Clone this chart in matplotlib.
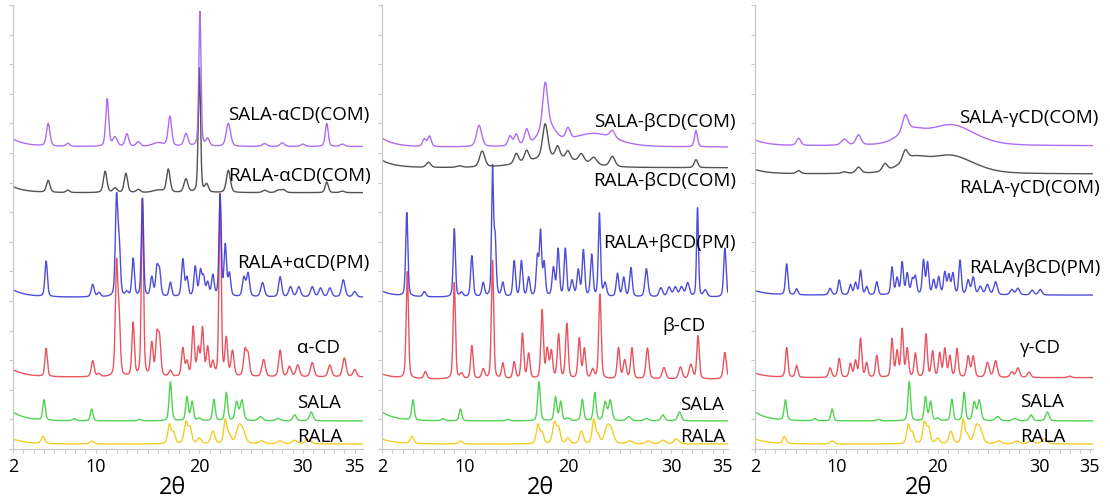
import numpy as np
import matplotlib
matplotlib.use("Agg")
import matplotlib.pyplot as plt

plt.rcParams["font.family"] = ["Open Sans", "DejaVu Sans"]

# ---------------------------------------------------------------------------
# Powder XRD patterns, stacked.  Each pattern: stacking offset, low-angle
# background rise, and a list of reflections (2θ, height, FWHM).
# ---------------------------------------------------------------------------
tick_values = [2, 10, 20, 30, 35]
tick_labels = ["2", "10", "20", "30", "35"]
panel_xmax = [35.8, 35.5, 35.3]

# R- and S-alpha-lipoic acid (same data in all three panels)
rala_offset, rala_rise = 17, 17
rala_peaks = [(4.9, 24, .4), (9.6, 10, .45), (17.1, 64, .38), (17.5, 36, .38),
              (18.7, 70, .42), (19.1, 50, .4), (20.0, 18, .45), (21.3, 42, .45),
              (22.5, 80, .36), (22.9, 28, .4), (23.8, 52, .6), (24.2, 38, .6),
              (26.0, 10, .6), (27.8, 10, .6), (29.2, 12, .6), (30.5, 17, .6)]

sala_offset, sala_rise = 95, 30
sala_peaks = [(5.0, 68, .3), (7.9, 7, .4), (9.6, 40, .3), (14.2, 5, .4),
              (17.2, 132, .3), (18.8, 80, .3), (19.3, 64, .3), (20.0, 8, .4),
              (21.4, 72, .3), (22.6, 95, .3), (23.6, 62, .36), (24.1, 68, .38),
              (25.9, 14, .5), (27.6, 8, .5), (29.2, 20, .4), (30.8, 30, .4)]

# alpha-cyclodextrin panel
acd_offset, acd_rise = 243, 25
acd_peaks = [(5.2, 95, .28), (9.7, 54, .34), (10.3, 10, .34), (12.0, 370, .28),
             (12.25, 180, .28), (13.6, 180, .28), (14.5, 600, .25), (15.4, 110, .3),
             (15.9, 130, .3), (16.15, 120, .3), (17.2, 20, .34), (18.4, 95, .3),
             (18.8, 48, .3), (19.4, 165, .3), (19.9, 90, .3), (20.3, 160, .3),
             (20.8, 95, .3), (21.3, 45, .3), (22.0, 615, .25), (22.6, 125, .3),
             (23.2, 85, .34), (24.4, 85, .34), (24.7, 70, .34), (26.2, 58, .4),
             (27.8, 90, .34), (28.7, 34, .4), (29.5, 40, .4), (30.9, 48, .4),
             (32.6, 40, .4), (34.0, 64, .4), (35.0, 25, .4)]

pm_a_offset, pm_a_rise = 513, 25
pm_a_peaks = [(5.2, 120, .28), (9.7, 42, .34), (10.3, 14, .34), (12.0, 325, .28),
              (12.25, 165, .28), (13.0, 14, .34), (13.6, 128, .28), (14.5, 330, .25),
              (15.4, 64, .3), (15.9, 92, .3), (16.15, 82, .3), (17.2, 48, .3),
              (18.4, 125, .3), (18.8, 62, .3), (19.6, 100, .3), (20.1, 84, .3),
              (20.4, 62, .3), (20.8, 45, .3), (21.3, 70, .3), (22.0, 340, .25),
              (22.5, 170, .28), (22.9, 75, .3), (24.3, 64, .34), (24.7, 78, .34),
              (26.1, 48, .4), (27.8, 68, .34), (28.8, 34, .4), (29.6, 34, .4),
              (30.9, 34, .4), (31.7, 30, .4), (32.6, 30, .4), (33.9, 58, .4),
              (35.0, 18, .4)]

rcom_a_offset, rcom_a_rise = 866, 20
rcom_a_peaks = [(5.4, 40, .4), (7.3, 8, .4), (10.9, 72, .4), (11.85, 15, .45),
                (12.9, 65, .38), (14.1, 10, .45), (16.0, 8, 1.2), (17.0, 78, .4),
                (18.7, 45, .45), (20.0, 420, .26), (20.7, 26, .4), (22.8, 75, .45),
                (26.3, 8, .5), (27.6, 8, .5), (28.1, 10, .5), (32.3, 36, .36),
                (33.8, 5, .5)]

scom_a_offset, scom_a_rise = 1022, 25
scom_a_peaks = [(5.4, 76, .4), (7.3, 10, .4), (11.1, 160, .34), (11.85, 30, .5),
                (13.0, 42, .4), (14.1, 15, .45), (16.0, 12, 1.2), (17.15, 100, .4),
                (18.7, 42, .45), (20.05, 455, .25), (20.8, 24, .4), (22.8, 78, .5),
                (26.3, 10, .5), (28.0, 12, .5), (30.0, 8, .5), (32.3, 78, .34),
                (33.8, 8, .5)]

# beta-cyclodextrin panel
bcd_offset, bcd_rise = 236, 17
bcd_peaks = [(4.45, 360, .26), (6.2, 24, .34), (9.0, 325, .26), (9.7, 17, .34),
             (10.7, 112, .28), (11.8, 32, .34), (12.7, 400, .26), (13.7, 52, .3),
             (14.8, 56, .3), (15.6, 152, .28), (16.2, 84, .3), (17.5, 230, .28),
             (18.0, 96, .3), (18.4, 90, .3), (19.1, 148, .3), (19.9, 185, .3),
             (21.1, 135, .3), (21.6, 100, .3), (22.4, 30, .34), (23.1, 285, .28),
             (24.9, 104, .3), (25.5, 62, .34), (26.2, 104, .3), (27.7, 104, .34),
             (29.3, 38, .4), (30.9, 40, .4), (31.9, 48, .4), (32.6, 145, .28),
             (35.2, 90, .34)]

pm_b_offset, pm_b_rise = 513, 20
pm_b_peaks = [(4.4, 282, .25), (6.1, 17, .34), (9.0, 230, .25), (9.7, 14, .34),
              (10.7, 138, .28), (11.8, 46, .3), (12.7, 425, .22), (12.95, 190, .25),
              (13.7, 46, .3), (14.8, 120, .28), (15.5, 120, .28), (16.2, 64, .3),
              (17.05, 130, .28), (17.35, 210, .25), (17.7, 110, .28), (18.6, 95, .3),
              (19.05, 158, .28), (19.75, 160, .28), (20.4, 52, .34), (21.0, 88, .3),
              (21.5, 155, .28), (22.3, 140, .28), (23.05, 280, .25), (23.6, 44, .34),
              (24.8, 78, .3), (25.4, 64, .3), (26.1, 98, .3), (27.6, 95, .34),
              (29.0, 30, .4), (29.8, 32, .4), (30.4, 32, .4), (31.0, 32, .4),
              (31.6, 46, .4), (32.55, 300, .22), (33.3, 22, .4), (35.2, 165, .28)]

rcom_b_offset, rcom_b_rise = 950, 25
rcom_b_peaks = [(6.5, 17, .5), (9.5, 5, .6), (11.7, 54, .6), (15.0, 34, .5),
                (16.0, 37, .5), (17.8, 115, .6), (18.5, 34, 6.0), (19.0, 38, .5),
                (20.0, 28, .5), (21.3, 28, .6), (22.5, 24, .7), (24.3, 34, .6),
                (32.4, 27, .4)]

scom_b_offset, scom_b_rise = 1020, 30
scom_b_peaks = [(6.1, 25, .4), (6.6, 35, .4), (11.4, 72, .6), (14.4, 33, .45),
                (15.0, 38, .45), (16.0, 52, .5), (17.8, 145, .55), (18.0, 70, 1.8),
                (20.0, 38, .5), (22.5, 45, 5.0), (24.3, 25, .6), (32.4, 55, .34)]

# gamma-cyclodextrin panel
gcd_offset, gcd_rise = 241, 15
gcd_peaks = [(5.12, 100, .28), (6.1, 40, .3), (9.4, 32, .34), (10.3, 64, .3),
             (11.4, 46, .3), (11.9, 55, .3), (12.4, 130, .28), (13.0, 48, .3),
             (14.0, 74, .3), (15.5, 128, .28), (16.0, 86, .3), (16.5, 160, .28),
             (17.0, 95, .3), (17.8, 80, .3), (18.85, 145, .3), (19.5, 86, .3),
             (20.2, 80, .3), (20.7, 95, .3), (21.2, 70, .3), (21.9, 96, .3),
             (23.0, 70, .34), (23.5, 70, .34), (24.9, 50, .4), (25.7, 56, .4),
             (27.3, 18, .4), (27.9, 32, .4), (29.0, 18, .4), (33.0, 5, .4)]

pm_g_offset, pm_g_rise = 520, 15
pm_g_peaks = [(5.12, 104, .28), (6.1, 20, .3), (9.4, 22, .34), (10.3, 50, .3),
              (11.4, 34, .3), (11.9, 40, .3), (12.4, 82, .28), (13.0, 27, .3),
              (14.0, 44, .3), (15.5, 92, .28), (16.0, 55, .3), (16.5, 108, .28),
              (17.0, 70, .3), (17.5, 48, .3), (17.8, 58, .3), (18.6, 114, .28),
              (19.0, 106, .28), (19.6, 48, .3), (20.1, 58, .3), (20.7, 74, .3),
              (21.1, 64, .3), (21.5, 70, .3), (22.2, 115, .28), (23.0, 48, .34),
              (23.5, 58, .34), (24.2, 27, .4), (24.9, 34, .4), (25.7, 44, .4),
              (27.3, 18, .4), (27.9, 22, .4), (29.3, 16, .4), (30.1, 18, .4)]

rcom_g_offset, rcom_g_rise = 929, 15
rcom_g_peaks = [(6.3, 10, .5), (10.8, 5, .6), (12.2, 20, .6), (14.8, 25, .6),
                (16.8, 35, .6), (17.5, 40, 3.0), (21.2, 62, 5.5)]

scom_g_offset, scom_g_rise = 1024, 20
scom_g_peaks = [(6.3, 24, .5), (10.8, 20, .7), (12.2, 34, .6), (16.8, 55, .65),
                (17.3, 40, 3.0), (21.3, 70, 5.5)]

panels = [
    dict(traces=[(rala_offset, rala_rise, rala_peaks), (sala_offset, sala_rise, sala_peaks),
                 (acd_offset, acd_rise, acd_peaks), (pm_a_offset, pm_a_rise, pm_a_peaks),
                 (rcom_a_offset, rcom_a_rise, rcom_a_peaks), (scom_a_offset, scom_a_rise, scom_a_peaks)],
         labels=[("RALA", 297, 437), ("SALA", 297, 403), ("α-CD", 297, 348),
                 ("RALA+αCD(PM)", 237, 263), ("RALA-αCD(COM)", 228, 176),
                 ("SALA-αCD(COM)", 228, 115)],
         xlabel_x=172),
    dict(traces=[(rala_offset, rala_rise, rala_peaks), (sala_offset, sala_rise, sala_peaks),
                 (bcd_offset, bcd_rise, bcd_peaks), (pm_b_offset, pm_b_rise, pm_b_peaks),
                 (rcom_b_offset, rcom_b_rise, rcom_b_peaks), (scom_b_offset, scom_b_rise, scom_b_peaks)],
         labels=[("RALA", 680, 437), ("SALA", 680, 405), ("β-CD", 662, 326),
                 ("RALA+βCD(PM)", 603, 243), ("RALA-βCD(COM)", 593, 181),
                 ("SALA-βCD(COM)", 594, 122)],
         xlabel_x=541),
    dict(traces=[(rala_offset, rala_rise, rala_peaks), (sala_offset, sala_rise, sala_peaks),
                 (gcd_offset, gcd_rise, gcd_peaks), (pm_g_offset, pm_g_rise, pm_g_peaks),
                 (rcom_g_offset, rcom_g_rise, rcom_g_peaks), (scom_g_offset, scom_g_rise, scom_g_peaks)],
         labels=[("RALA", 1020, 437), ("SALA", 1020, 402), ("γ-CD", 1020, 348),
                 ("RALAγβCD(PM)", 969, 268), ("RALA-γCD(COM)", 959, 188),
                 ("SALA-γCD(COM)", 959, 118)],
         xlabel_x=919),
]

trace_colors = ["#f2c80f", "#3fce3f", "#e8404e", "#3a3ad6", "#404040", "#a45ef0"]
axes_px = [(13, 350), (382, 346), (755, 338)]  # left edge, width (pixels)
W, H = 1110, 502


def pattern(tt, offset, rise, peaks):
    y = offset + rise * np.exp(-(tt - 2.0) / 1.3)
    for pos, h, w in peaks:
        g = np.exp(-4 * np.log(2) * ((tt - pos) / w) ** 2)
        l = 1.0 / (1.0 + 4 * ((tt - pos) / w) ** 2)
        y = y + h * (0.65 * g + 0.35 * l)
    return y


fig = plt.figure(figsize=(W / 100, H / 100), dpi=100)
axis_gray = "#c8c8c8"

for (left, width), xmax, panel in zip(axes_px, panel_xmax, panels):
    ax = fig.add_axes([left / W, 52 / H, width / W, 444 / H])
    tt = np.arange(2.0, xmax, 0.01)
    for (off, rise, pk), col in zip(panel["traces"], trace_colors):
        ax.plot(tt, pattern(tt, off, rise, pk), color=col, lw=1.0, alpha=0.9)
    ax.set_xlim(2, xmax)
    ax.set_ylim(0, 1500)
    ax.set_yticks(np.arange(0, 1501, 100))
    ax.set_yticklabels([])
    ax.set_xticks(tick_values)
    ax.set_xticklabels(tick_labels, fontsize=13)
    ax.set_xticks(np.arange(2, int(xmax) + 1, 1), minor=True)
    ax.tick_params(axis="both", which="both", direction="out", length=3,
                   color=axis_gray, width=0.8)
    ax.tick_params(axis="x", which="major", pad=3, labelcolor="black")
    for side in ("top", "right"):
        ax.spines[side].set_visible(False)
    for side in ("left", "bottom"):
        ax.spines[side].set_color(axis_gray)
        ax.spines[side].set_linewidth(0.9)
    fig.text(panel["xlabel_x"] / W, 1 - 488 / H, "2θ", fontsize=17,
             ha="center", va="center")
    for text, x, y in panel["labels"]:
        fig.text(x / W, 1 - y / H, text, fontsize=13.5, ha="left", va="center")

fig.savefig("out.png", dpi=100)
